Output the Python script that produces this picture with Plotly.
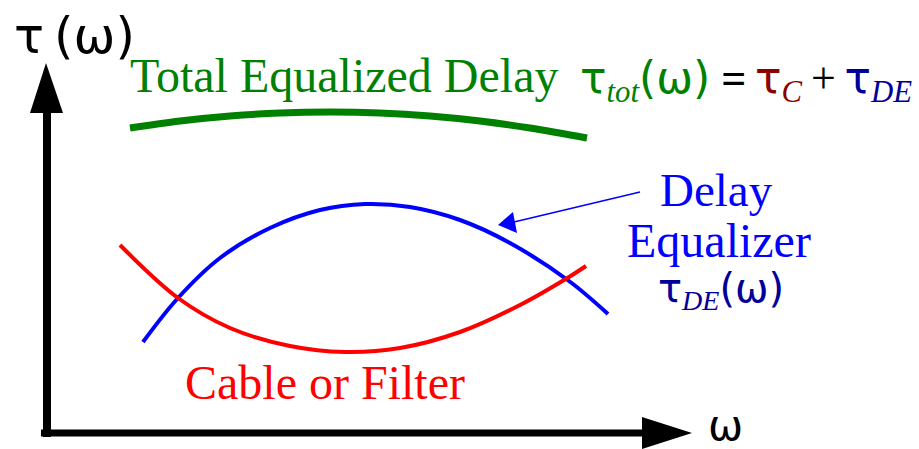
import plotly.graph_objects as go

# Sketch of group delay vs. frequency, drawn on a pixel-like canvas
W, H = 919, 449

# Curve samples (x = frequency position, y = delay position, screen-down)
total_x = [130, 180, 230, 280, 330, 380, 430, 480, 530, 587]
total_y = [128, 121, 116, 113, 112, 113, 116, 121, 128, 138]

equalizer_x = [143, 178, 220, 270, 320, 365, 410, 460, 510, 569, 608]
equalizer_y = [342, 298, 258, 228, 210, 204, 207, 220, 243, 281, 314]

cable_x = [120, 178, 230, 290, 345, 400, 460, 520, 569, 586]
cable_y = [245, 298, 328, 346, 352, 348, 332, 305, 277, 266]

SERIF = "Liberation Serif"
GREEK = "DejaVu Sans"
GREEN = "#008000"
RED = "#ff0000"
BLUE = "#0000ff"
DARK_RED = "#8b0000"
DARK_BLUE = "#000099"
THIN = "\u2009"

fig = go.Figure()
fig.add_trace(go.Scatter(x=total_x, y=total_y, mode="lines", line=dict(color=GREEN, width=7, shape="spline"), hoverinfo="skip"))
fig.add_trace(go.Scatter(x=equalizer_x, y=equalizer_y, mode="lines", line=dict(color=BLUE, width=4, shape="spline"), hoverinfo="skip"))
fig.add_trace(go.Scatter(x=cable_x, y=cable_y, mode="lines", line=dict(color=RED, width=4, shape="spline"), hoverinfo="skip"))

shapes = [
    # axes
    dict(type="line", x0=47, y0=437, x1=47, y1=110, line=dict(color="black", width=8)),
    dict(type="line", x0=41, y0=433, x1=646, y1=433, line=dict(color="black", width=7)),
    dict(type="path", path="M 46 63 L 30 113 L 63 113 Z", fillcolor="black", line=dict(width=0)),
    dict(type="path", path="M 692 433 L 642 417 L 642 449 Z", fillcolor="black", line=dict(width=0)),
    # callout to the equalizer curve
    dict(type="line", x0=640, y0=192, x1=514, y1=222, line=dict(color=BLUE, width=1.5)),
    dict(type="path", path="M 498 225 L 513 212 L 517 233 Z", fillcolor=BLUE, line=dict(width=0)),
]
for s in shapes:
    s.update(xref="x", yref="y")


def greek(s):
    return f"<span style='font-family:{GREEK}'>{s}</span>"


def sub(s):
    return f"<sub><i>{s}</i></sub>"


def label(x, y, text, size, color="black", xanchor="left", family=SERIF, **kw):
    return dict(x=x, y=y, xref="x", yref="y", text=text, showarrow=False,
                xanchor=xanchor, yanchor="middle",
                font=dict(family=family, size=size, color=color), **kw)


formula = (
    f"<span style='color:{GREEN}'>{greek('τ')}{sub('tot')}{greek('(ω)')}</span>"
    f" <b>=</b>{THIN}"
    f"<span style='color:{DARK_RED}'>{greek('τ')}{sub('C')}</span>"
    f"{THIN}+{THIN}"
    f"<span style='color:{DARK_BLUE}'>{greek('τ')}{sub('DE')}</span>"
)

annotations = [
    label(12, 36, greek(f"τ{THIN}(ω)"), 50),
    label(128, 75, "Total Equalized Delay", 48, GREEN),
    label(578, 80, formula, 44),
    label(716, 190, "Delay", 47, BLUE, "center"),
    label(719, 240, "Equalizer", 48, BLUE, "center"),
    label(721, 290, greek("τ") + sub("DE") + greek("(ω)"), 40, DARK_BLUE, "center"),
    label(325, 382, "Cable or Filter", 48, RED, "center"),
    label(706, 425, greek("ω"), 42),
]

fig.update_layout(
    width=W, height=H, margin=dict(l=0, r=0, t=0, b=0),
    paper_bgcolor="white", plot_bgcolor="white", showlegend=False,
    font=dict(family=SERIF),
    xaxis=dict(range=[0, W], visible=False, fixedrange=True),
    yaxis=dict(range=[H, 0], visible=False, fixedrange=True),
    shapes=shapes, annotations=annotations,
)
fig.write_html("out.html")
